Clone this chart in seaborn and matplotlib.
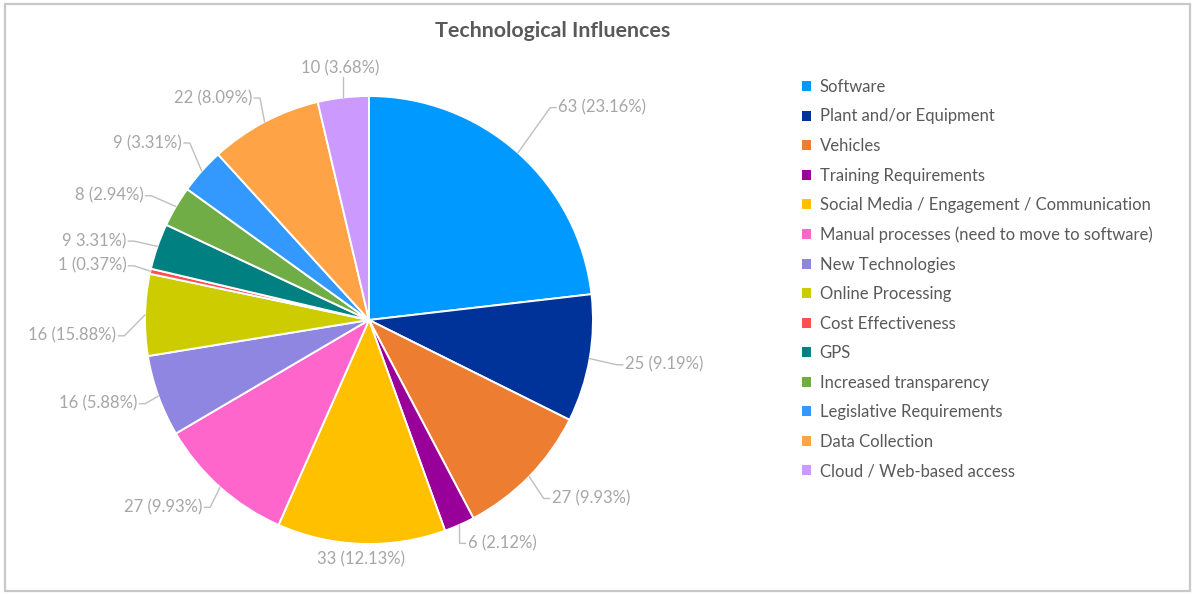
import numpy as np
import matplotlib
matplotlib.use("Agg")
import matplotlib.pyplot as plt
from matplotlib.patches import Patch, Rectangle
import seaborn as sns

sns.set_theme(style="white")
plt.rcParams["font.family"] = ["Lato", "DejaVu Sans"]

# ---- data -------------------------------------------------------------
categories = [
    "Software",
    "Plant and/or Equipment",
    "Vehicles",
    "Training Requirements",
    "Social Media / Engagement / Communication",
    "Manual processes (need to move to software)",
    "New Technologies",
    "Online Processing",
    "Cost Effectiveness",
    "GPS",
    "Increased transparency",
    "Legislative Requirements",
    "Data Collection",
    "Cloud / Web-based access",
]
counts = [63, 25, 27, 6, 33, 27, 16, 16, 1, 9, 8, 9, 22, 10]
value_labels = [
    "63 (23.16%)", "25 (9.19%)", "27 (9.93%)", "6 (2.12%)", "33 (12.13%)",
    "27 (9.93%)", "16 (5.88%)", "16 (15.88%)", "1 (0.37%)", "9 3.31%)",
    "8 (2.94%)", "9 (3.31%)", "22 (8.09%)", "10 (3.68%)",
]
colors = [
    "#0099FF", "#003399", "#ED7D31", "#990099", "#FFC000", "#FF66CC",
    "#8E86E0", "#CCCC00", "#FF5050", "#008080", "#70AD47", "#3399FF",
    "#FFA347", "#CC99FF",
]

# label placement: distance from centre (in radii) and angular nudge (deg)
label_radius = [1.27, 1.16, 1.14, 1.09, 1.07, 1.12, 1.10, 1.13, 1.11,
                1.14, 1.15, 1.15, 1.12, 1.13]
label_nudge = [0, 0, 0, 0, 0, 0, 0, 4.9, 0, 1.2, 1.6, -1.7, 0, 0]

# ---- figure -----------------------------------------------------------
W, H = 1193, 594
fig = plt.figure(figsize=(W / 100, H / 100), dpi=100)
fig.patch.set_facecolor("white")

# axes spanning the left part; limits chosen so one unit = R pixels
R = 224.0
cx, cy = 369.0, 594 - 320.0
ax_w = 760.0
ax = fig.add_axes([0, 0, ax_w / W, 1])

wedges, _ = ax.pie(
    counts,
    colors=colors,
    startangle=90,
    counterclock=False,
    wedgeprops=dict(edgecolor="white", linewidth=1.4),
)
ax.set_aspect("auto")
ax.set_xlim(-cx / R, (ax_w - cx) / R)
ax.set_ylim(-cy / R, (H - cy) / R)
ax.axis("off")

label_color = "#A6A6A6"
line_color = "#BFBFBF"
fs_lab = 12
px = 1.0 / R
text_h = 16 * px

for w, lab, rf, nd in zip(wedges, value_labels, label_radius, label_nudge):
    mid = 0.5 * (w.theta1 + w.theta2)
    ang_lab = np.deg2rad(mid + nd)
    ang = np.deg2rad(mid)
    ex, ey = np.cos(ang), np.sin(ang)
    tx, ty = rf * np.cos(ang_lab), rf * np.sin(ang_lab)
    c = np.cos(ang_lab)
    if abs(c) < 0.15:
        ax.text(tx, ty, lab, ha="center", va="center", fontsize=fs_lab,
                color=label_color)
        near_y = ty - np.sign(ty) * text_h / 2
        if np.hypot(tx, near_y) - 1.0 > 0.05:
            ax.plot([ex, ex], [ey, near_y], color=line_color, lw=1.0)
    else:
        side = 1 if c > 0 else -1
        ha = "left" if side > 0 else "right"
        ax.text(tx, ty, lab, ha=ha, va="center", fontsize=fs_lab,
                color=label_color)
        elbow_x = tx - side * 8 * px
        end_x = tx - side * 2 * px
        ax.plot([ex, elbow_x, end_x], [ey, ty, ty], color=line_color, lw=1.0)

# title
fig.text(553 / W, 1 - 31 / H, "Technological Influences", ha="center",
         va="center", fontsize=15.4, fontweight="bold", color="#595959")

# legend
handles = [Patch(facecolor=col, edgecolor="none") for col in colors]
fig.legend(
    handles, categories,
    loc="upper left",
    bbox_to_anchor=(802 / W, 1 - 79 / H),
    frameon=False,
    fontsize=12,
    labelcolor="#595959",
    handlelength=0.55,
    handleheight=0.55,
    handletextpad=0.5,
    labelspacing=0.81,
    borderaxespad=0,
    borderpad=0,
)

# outer chart border
fig.add_artist(Rectangle((5 / W, 3 / H), (W - 8) / W, (H - 7) / H,
                         transform=fig.transFigure, fill=False,
                         edgecolor="#C8C8C8", linewidth=1.6))

fig.savefig("out.png", dpi=100, facecolor="white")
